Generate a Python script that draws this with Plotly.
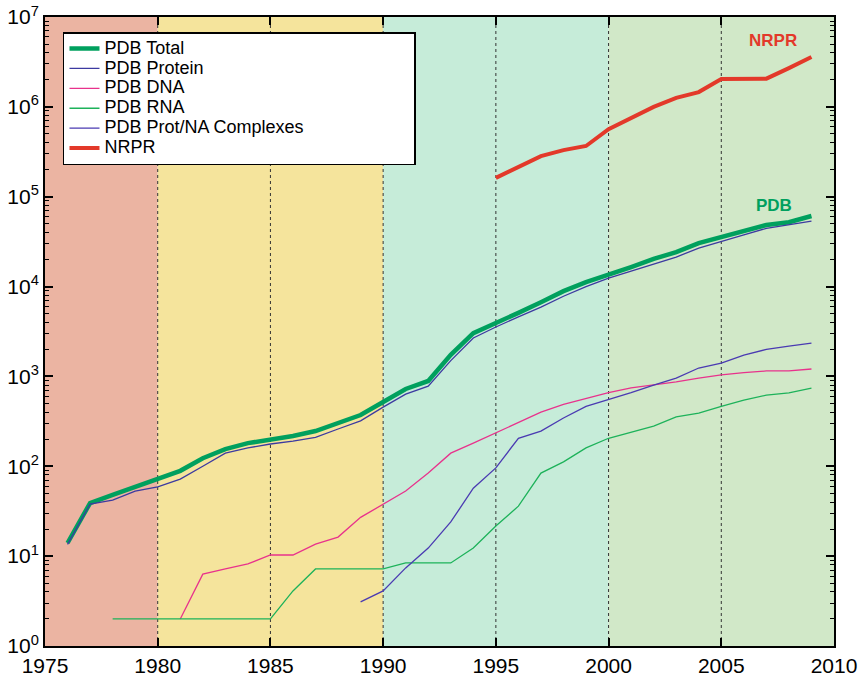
import plotly.graph_objects as go

years = list(range(1976, 2010))

pdb_total = [14, 39, 48, 59, 72, 89, 123, 155, 181, 200, 217, 247, 302, 372, 520, 725, 890,
             1740, 3030, 3900, 5100, 6700, 8900, 11200, 13800, 16500, 20300, 24200, 30500,
             35600, 41500, 48400, 52000, 61000]
pdb_protein = [13.5, 38, 42, 53, 59, 72, 100, 140, 160, 177, 191, 210, 260, 320, 455, 635, 780,
               1500, 2680, 3550, 4600, 5900, 7800, 10000, 12400, 14900, 17800, 21300, 26800,
               31500, 37500, 44500, 48500, 53500]

dna_years = list(range(1981, 2010))
pdb_dna = [2, 6.3, 7.2, 8.2, 10.3, 10.3, 13.6, 16.3, 27, 38, 53, 84, 140, 181, 235, 303, 400,
           490, 570, 660, 745, 800, 870, 960, 1040, 1100, 1150, 1150, 1210]

rna_years = list(range(1978, 2010))
pdb_rna = [2, 2, 2, 2, 2, 2, 2, 2, 4.1, 7.2, 7.2, 7.2, 7.2, 8.4, 8.4, 8.4, 12.3, 21.6, 36, 84,
           112, 160, 205, 240, 280, 355, 390, 465, 545, 620, 655, 740]

cplx_years = list(range(1989, 2010))
pdb_complex = [3.1, 4.1, 7.4, 12.3, 24, 57, 96, 205, 246, 345, 465, 550, 660, 800, 960, 1240,
               1410, 1730, 2000, 2180, 2350]

nrpr_years = list(range(1995, 2010))
nrpr = [162000, 214000, 283000, 330000, 367000, 565000, 750000, 1000000, 1260000, 1460000,
        2040000, 2040000, 2060000, 2700000, 3590000]

series_names = ["PDB Total", "PDB Protein", "PDB DNA", "PDB RNA", "PDB Prot/NA Complexes", "NRPR"]

x_ticks = [1975, 1980, 1985, 1990, 1995, 2000, 2005, 2010]
y_exps = [0, 1, 2, 3, 4, 5, 6, 7]
era_bounds = [1975, 1980, 1990, 2000, 2010]
era_colors = ["#EBB4A2", "#F5E49C", "#C6ECD9", "#D1E8C8"]
dotted_years = [1980, 1985, 1990, 1995, 2000, 2005]

FONT = "Liberation Sans, Arial, Helvetica, sans-serif"


def leg(name, pad=0):
    return '<span style="font-size:18px">' + name + "&nbsp;" * pad + "</span>"


fig = go.Figure()
fig.add_trace(go.Scatter(x=years, y=pdb_total, mode="lines", name=leg(series_names[0]),
                         line=dict(color="#00A05E", width=4.5)))
fig.add_trace(go.Scatter(x=years, y=pdb_protein, mode="lines", name=leg(series_names[1]),
                         line=dict(color="#3C3AA0", width=1.3)))
fig.add_trace(go.Scatter(x=dna_years, y=pdb_dna, mode="lines", name=leg(series_names[2]),
                         line=dict(color="#E8328C", width=1.3)))
fig.add_trace(go.Scatter(x=rna_years, y=pdb_rna, mode="lines", name=leg(series_names[3]),
                         line=dict(color="#1DB25A", width=1.3)))
fig.add_trace(go.Scatter(x=cplx_years, y=pdb_complex, mode="lines", name=leg(series_names[4], 21),
                         line=dict(color="#4A3AB2", width=1.3)))
fig.add_trace(go.Scatter(x=nrpr_years, y=nrpr, mode="lines", name=leg(series_names[5]),
                         line=dict(color="#E3392A", width=4)))

shapes = []
for i, c in enumerate(era_colors):
    shapes.append(dict(type="rect", xref="x", yref="paper", x0=era_bounds[i], x1=era_bounds[i + 1],
                       y0=0, y1=1, fillcolor=c, line=dict(width=0), layer="below"))
for yv in dotted_years:
    shapes.append(dict(type="line", xref="x", yref="paper", x0=yv, x1=yv, y0=0, y1=1,
                       line=dict(color="#333333", width=1, dash="dot"), layer="below"))

fig.update_layout(
    width=862, height=682,
    margin=dict(l=45, r=28, t=17, b=36, autoexpand=False),
    paper_bgcolor="white", plot_bgcolor="white",
    font=dict(family=FONT, size=21, color="black"),
    shapes=shapes,
    showlegend=True,
    legend=dict(x=0.0228, y=0.976, xanchor="left", yanchor="top",
                bgcolor="white", bordercolor="black", borderwidth=1.5,
                font=dict(family=FONT, size=13, color="black"),
                tracegroupgap=0, itemwidth=30),
    annotations=[
        dict(x=2007.3, y=6.74, xref="x", yref="y", text="<b>NRPR</b>", showarrow=False,
             font=dict(family=FONT, size=17, color="#E3392A")),
        dict(x=2007.35, y=4.9, xref="x", yref="y", text="<b>PDB</b>", showarrow=False,
             font=dict(family=FONT, size=17, color="#00A05E")),
    ],
)

fig.update_xaxes(range=[1975, 2010], tickvals=x_ticks, ticktext=[str(v) for v in x_ticks],
                 ticks="inside", ticklen=8, tickwidth=1.5, tickcolor="black",
                 showline=True, linecolor="black", linewidth=2, mirror="ticks",
                 showgrid=False, zeroline=False, tickfont=dict(size=21), automargin=False,
                 ticklabeloverflow="allow")
fig.update_yaxes(type="log", range=[0, 7], tickvals=[10 ** e for e in y_exps],
                 ticktext=["10<sup>%d</sup>" % e for e in y_exps],
                 ticks="inside", ticklen=8, tickwidth=1.5, tickcolor="black",
                 showline=True, linecolor="black", linewidth=2, mirror="ticks",
                 showgrid=False, zeroline=False, tickfont=dict(size=21), automargin=False,
                 ticklabeloverflow="allow",
                 minor=dict(ticks="inside", ticklen=4, tickwidth=1, tickcolor="black",
                            dtick="D1", showgrid=False))

# remove the browser's default 8px body margin so the 862x682 figure fills the window
fig.write_html("out.html", config={"displayModeBar": False},
               post_script="document.body.style.margin='0';document.body.style.padding='0';")
